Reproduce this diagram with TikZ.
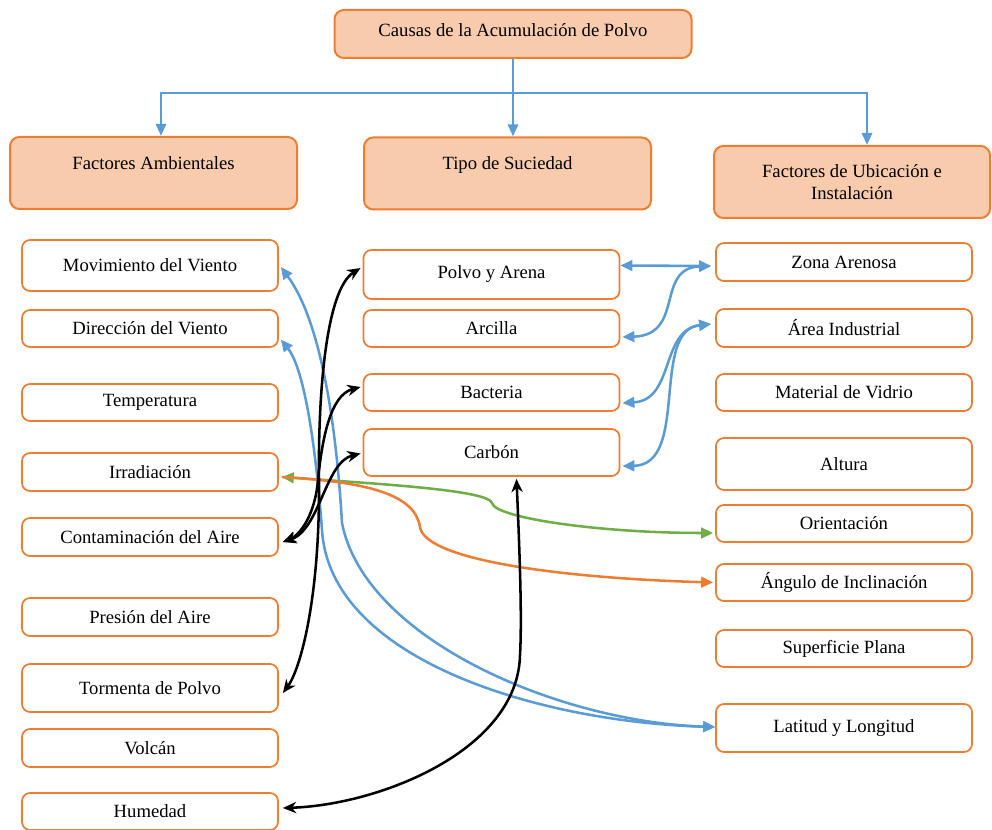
\documentclass[tikz,border=0pt]{standalone}
\usepackage{fontspec}
\setmainfont{Liberation Serif}
\usetikzlibrary{arrows.meta,calc}
\definecolor{borde}{HTML}{ED7D31}
\definecolor{relleno}{HTML}{F8CBAD}
\definecolor{azul}{HTML}{5B9BD5}
\definecolor{verde}{HTML}{70AD47}

\begin{document}
\begin{tikzpicture}[x=0.75pt,y=-0.75pt,
	every node/.style={font=\fontsize{14}{16.5}\selectfont},
	causa/.style={draw=borde,fill=relleno,line width=1.5pt,rounded corners=7pt,minimum width=215.25pt,minimum height=54pt},
	item/.style={draw=borde,fill=white,line width=1.3pt,rounded corners=6pt,minimum width=192pt},
	rama/.style={azul,line width=2.2pt,-{Triangle[length=9pt,width=7.5pt]}},
	flecha/.style={line width=1.9pt,{Triangle[length=9pt,width=8pt]}-{Triangle[length=9pt,width=8pt]}},
	negra/.style={black,line width=1.9pt,{Stealth[length=10pt,width=8.5pt]}-{Stealth[length=10pt,width=8.5pt]}}]
	\useasboundingbox (0,0) rectangle (992,830);
	\node[causa, minimum width=267.75pt, minimum height=36pt, text depth=6pt] (top) at (513,34) {Causas de la Acumulación de Polvo};
	\node[causa, text depth=15pt] (fa) at (153.5,173) {Factores Ambientales};
	\node[causa, text depth=15pt] (tipo) at (507.5,173.5) {Tipo de Suciedad};
	\node[causa, minimum width=207pt, align=center] (ubi) at (852,182) {Factores de Ubicación e\\Instalación};
	\draw[rama] (top.south) -- (top.south |- tipo.north);
	\draw[rama] ($(top.south)+(0,34)$) -| ($(fa.north)+(7.5,0)$);
	\draw[rama] ($(top.south)+(0,34)$) -| ($(ubi.north)+(15,0)$);
	\foreach \nombre/\py/\alto/\texto in {mov/265.5/38.25/Movimiento del Viento, dir/328.5/27.75/Dirección del Viento,
		tem/402.5/27.75/Temperatura, irr/472/28.5/Irradiación, con/537/28.5/Contaminación del Aire,
		pre/617/28.5/Presión del Aire, tor/688/36/Tormenta de Polvo, vol/748/28.5/Volcán, hum/811.5/27.75/Humedad}
		{\node[item, minimum height=\alto pt] (\nombre) at (150,\py) {\texto};}
	\foreach \nombre/\py/\alto/\texto in {pol/274.5/36.75/Polvo y Arena, arc/328.5/27.75/Arcilla,
		bac/392.5/27.75/Bacteria, car/452.5/35.25/Carbón}
		{\node[item, minimum height=\alto pt] (\nombre) at (491.5,\py) {\texto};}
	\foreach \nombre/\py/\alto/\texto in {zon/262/28.5/Zona Arenosa, are/328/28.5/Área Industrial,
		mat/392.5/27.75/Material de Vidrio, alt/464/39/Altura, ori/523.5/27.75/Orientación,
		ang/582.5/27.75/Ángulo de Inclinación, sup/648.5/27.75/Superficie Plana, lat/728/36/Latitud y Longitud}
		{\node[item, minimum height=\alto pt] (\nombre) at (844,\py) {\texto};}
	\draw[flecha, azul] ($(lat.west)+(0,-1)$) .. controls (560,722) and (365,640) .. (342,523)
		.. controls (336,420) and (320,320) .. ($(mov.east)+(2,1.5)$);
	\draw[flecha, azul] ($(lat.west)+(0,-1)$) .. controls (540,722) and (330,660) .. (322,530)
		.. controls (316,450) and (305,370) .. ($(dir.east)+(2,11)$);
	\draw[flecha, azul] ($(pol.east)+(0,-9)$) -- ($(zon.west)+(-4,4)$);
	\draw[flecha, azul] ($(zon.west)+(-4,4)$) .. controls (655,268) and (685,335) .. ($(arc.east)+(2,8.5)$);
	\draw[flecha, azul] ($(are.west)+(-4,-4)$) .. controls (660,330) and (675,400) .. ($(bac.east)+(2,10.5)$);
	\draw[flecha, azul] ($(are.west)+(-4,-4)$) .. controls (650,330) and (690,465) .. ($(car.east)+(2,13.5)$);
	\draw[flecha, verde] ($(irr.east)+(3,5)$) .. controls (380,484) and (488,490) .. (492,503)
		.. controls (495,518) and (600,533) .. ($(ori.west)+(-2,9.5)$);
	\draw[line width=1.9pt, borde, -{Triangle[length=9pt,width=8pt]}] ($(irr.east)+(3,5)$) .. controls (370,482) and (415,495) .. (420,527)
		.. controls (425,560) and (560,578) .. ($(ang.west)+(-2,0)$);
	\draw[negra] ($(pol.west)+(-2,-6.5)$) .. controls (325,290) and (318,400) .. (319,480)
		.. controls (320,600) and (300,670) .. ($(tor.east)+(4,5)$);
	\draw[negra] ($(bac.west)+(-2,-5.5)$) .. controls (330,395) and (322,440) .. (318,480)
		.. controls (315,515) and (300,535) .. ($(con.east)+(4,5)$);
	\draw[negra] ($(car.west)+(-2,1)$) .. controls (325,462) and (320,530) .. ($(con.east)+(4,5)$);
	\draw[negra] ($(car.south)+(25,2)$) .. controls (520,560) and (522,620) .. (520,655)
		.. controls (518,750) and (380,805) .. ($(hum.east)+(4,-3.5)$);
\end{tikzpicture}
\end{document}
